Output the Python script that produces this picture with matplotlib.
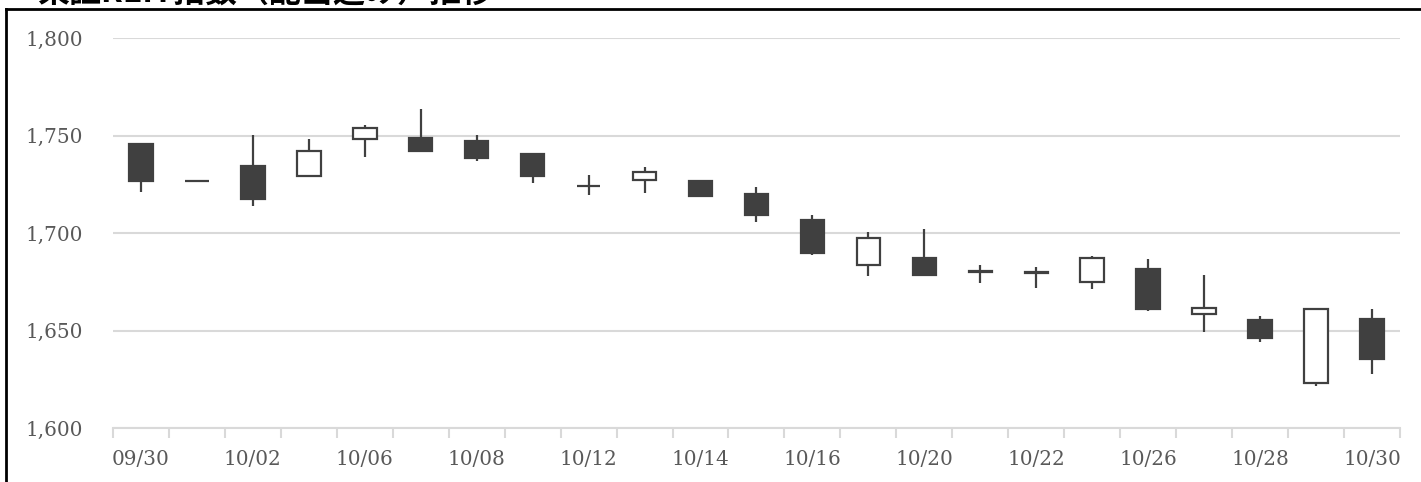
import numpy as np
import matplotlib as mpl
mpl.use('Agg')
import matplotlib.pyplot as plt
from matplotlib.lines import Line2D

plt.rcParams['font.family'] = ['DejaVu Serif']

dates = ['09/30', '10/01', '10/02', '10/05', '10/06', '10/07', '10/08', '10/09',
         '10/12', '10/13', '10/14', '10/15', '10/16', '10/19', '10/20', '10/21',
         '10/22', '10/23', '10/26', '10/27', '10/28', '10/29', '10/30']
opens = [1745.7, 1726.8, 1734.4, 1729.4, 1748.4, 1748.6, 1747.4, 1740.7,
         1724.2, 1727.4, 1726.9, 1719.9, 1707.0, 1683.7, 1687.2, 1680.8,
         1680.0, 1674.7, 1681.7, 1658.4, 1655.3, 1623.3, 1656.0]
highs = [1746.2, 1727.0, 1750.2, 1748.3, 1755.3, 1763.8, 1750.2, 1740.9,
         1730.1, 1734.1, 1727.1, 1723.6, 1709.2, 1700.4, 1701.9, 1683.6,
         1682.5, 1688.5, 1686.6, 1678.6, 1657.5, 1661.3, 1661.0]
lows = [1721.1, 1726.5, 1714.0, 1729.0, 1738.9, 1741.8, 1736.8, 1725.5,
        1719.4, 1720.4, 1718.6, 1705.7, 1689.0, 1677.9, 1677.8, 1674.5,
        1672.1, 1671.6, 1660.0, 1649.3, 1644.2, 1621.6, 1627.7]
closes = [1726.6, 1726.6, 1717.5, 1742.0, 1754.1, 1742.1, 1738.5, 1729.1,
          1724.0, 1731.5, 1719.2, 1709.1, 1689.6, 1697.6, 1678.6, 1680.3,
          1679.6, 1687.5, 1661.0, 1661.5, 1646.4, 1661.0, 1635.3]

title = '東証REIT指数（配当込み）推移'

dark = '#404040'
grid = '#d9d9d9'
txt = '#595959'

fig = plt.figure(figsize=(14.21, 4.82), dpi=100)
ax = fig.add_axes([0.0795, 0.112, 0.9057, 0.8085])

x = np.arange(len(dates))
o = np.array(opens)
c = np.array(closes)
up = c >= o
ax.vlines(x, lows, highs, color=dark, linewidth=1.6, zorder=2)
ax.bar(x, np.abs(c - o), bottom=np.minimum(o, c), width=0.42,
       color=np.where(up, 'white', dark), edgecolor=dark, linewidth=1.6, zorder=3)

ax.set_xlim(-0.5, len(dates) - 0.5)
ax.set_ylim(1600, 1800)
ax.set_yticks([1600, 1650, 1700, 1750, 1800])
ax.set_yticklabels(['{:,}'.format(v) for v in [1600, 1650, 1700, 1750, 1800]])
ax.grid(axis='y', color=grid, linewidth=1.5)
ax.set_axisbelow(True)

ax.set_xticks(x[::2])
ax.set_xticklabels(dates[::2])
ax.set_xticks(np.arange(-0.5, len(dates), 1), minor=True)
ax.tick_params(axis='x', which='major', length=0, pad=16, labelsize=14.4, labelcolor=txt)
ax.tick_params(axis='x', which='minor', length=7, width=1.5, color=grid)
ax.tick_params(axis='y', length=0, pad=21.5, labelsize=14.4, labelcolor=txt)

for s in ['top', 'right', 'left']:
    ax.spines[s].set_visible(False)
ax.spines['bottom'].set_color(grid)
ax.spines['bottom'].set_linewidth(1.5)

# frame and title (cut off at the top edge, as in the original)
fig.add_artist(Line2D([6 / 1421, 6 / 1421], [0, 1 - 9 / 482], color='black', linewidth=2))
fig.add_artist(Line2D([6 / 1421, 1], [1 - 9 / 482, 1 - 9 / 482], color='black', linewidth=2))
fig.text(37 / 1421, 1 - 1.5 / 482, title, fontsize=23, fontweight='bold',
         family=['Noto Sans CJK JP', 'DejaVu Sans'], va='baseline', ha='left')

fig.savefig('out.png', dpi=100)
